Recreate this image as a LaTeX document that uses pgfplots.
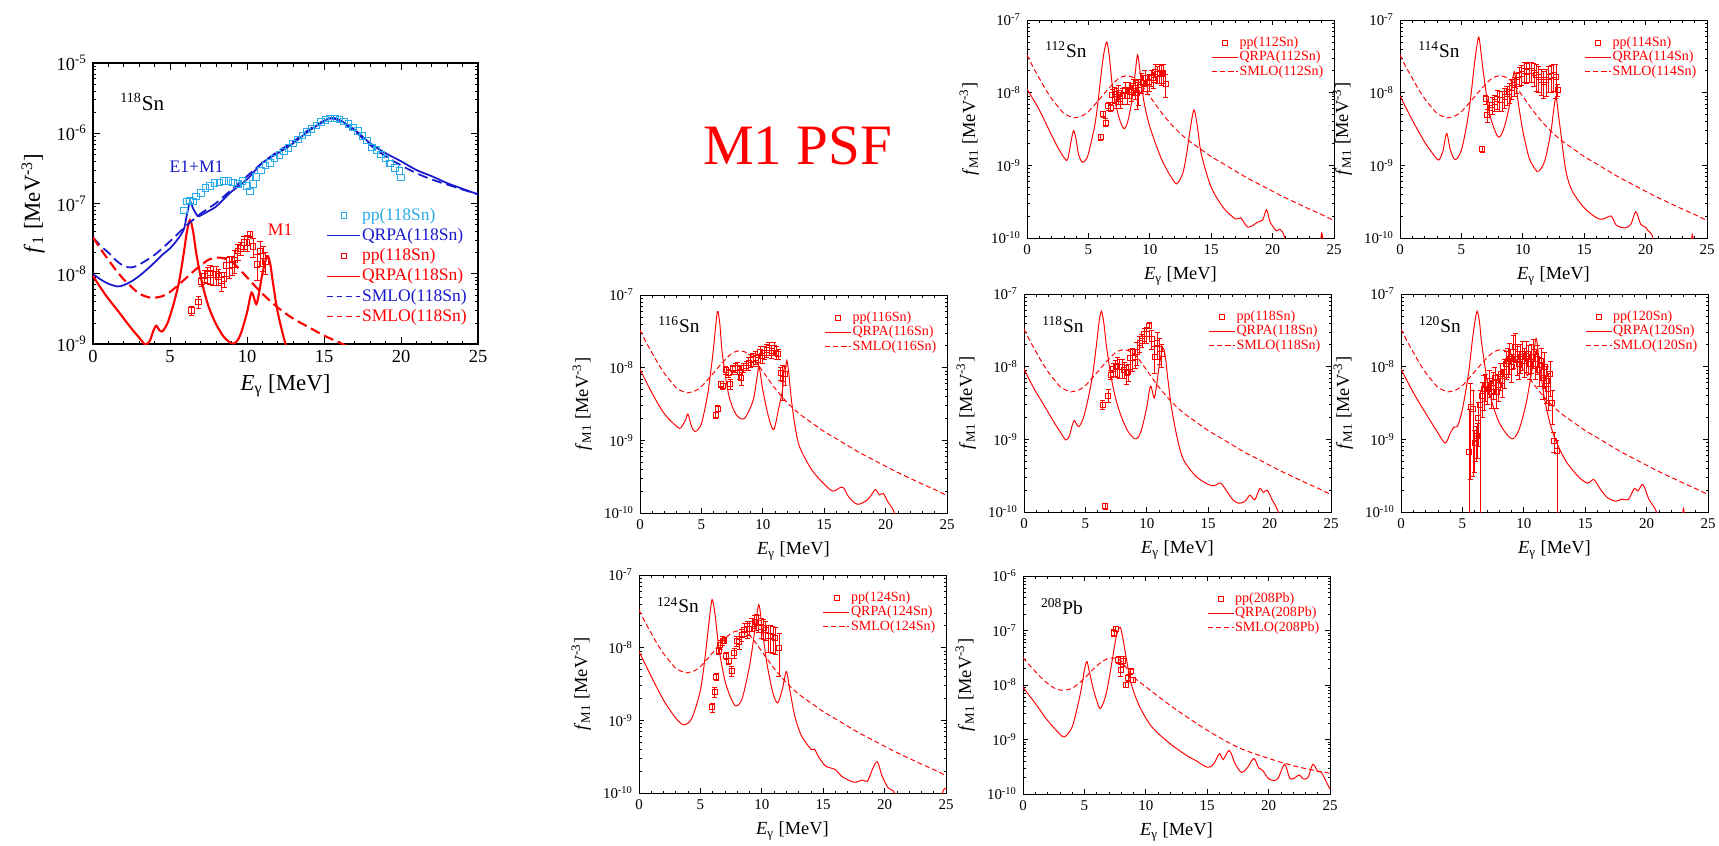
\documentclass[border=0pt]{standalone}
\usepackage{fontspec}
\setmainfont{Liberation Serif}
\usepackage{pgfplots}
\usepackage{pgfplotstable}
\pgfplotsset{compat=1.18}

\definecolor{ppcyan}{RGB}{40,170,235}
\definecolor{qblue}{RGB}{25,25,205}

% ---------------- E1+M1, 118Sn ----------------
\pgfplotstableread{
x y
5.9 7.9e-8
6.1 1.07e-7
6.3 1.10e-7
6.5 1.07e-7
6.7 1.26e-7
7.0 1.41e-7
7.3 1.66e-7
7.6 1.78e-7
7.9 1.95e-7
8.2 2.0e-7
8.5 2.1e-7
8.8 2.1e-7
9.1 2.0e-7
9.4 1.9e-7
9.7 2.1e-7
10.0 1.78e-7
10.2 1.48e-7
10.4 1.9e-7
10.6 2.4e-7
10.9 2.95e-7
11.2 3.5e-7
11.5 3.8e-7
11.8 4.4e-7
12.1 4.9e-7
12.4 5.5e-7
12.7 6.2e-7
13.0 7.1e-7
13.3 8.1e-7
13.6 9.3e-7
13.9 1.05e-6
14.2 1.15e-6
14.5 1.29e-6
14.8 1.45e-6
15.1 1.55e-6
15.4 1.62e-6
15.7 1.62e-6
16.0 1.58e-6
16.3 1.48e-6
16.6 1.35e-6
16.9 1.20e-6
17.2 1.07e-6
17.5 9.1e-7
17.8 7.9e-7
18.1 6.3e-7
18.4 5.8e-7
18.7 5.0e-7
19.0 4.4e-7
19.3 3.7e-7
19.6 3.2e-7
19.9 2.9e-7
20.0 2.35e-7
}\ppEM

\pgfplotstableread{
x y
0 9.9e-9
0.5 8.3e-9
1.0 7.2e-9
1.6 6.6e-9
2.0 6.9e-9
2.5 7.8e-9
3.0 9.3e-9
3.5 1.15e-8
4.0 1.45e-8
4.5 1.86e-8
5.0 2.3e-8
5.5 3.1e-8
5.9 4.3e-8
6.1 7.0e-8
6.3 1.05e-7
6.5 8.5e-8
6.8 6.6e-8
7.0 6.8e-8
7.5 7.8e-8
8 9.1e-8
9 1.48e-7
10 2.2e-7
11 3.8e-7
12 5.2e-7
13 7.2e-7
14 1.07e-6
15 1.48e-6
15.5 1.66e-6
16 1.55e-6
17 1.12e-6
18 7.2e-7
19 5.2e-7
20 4.0e-7
21 3.0e-7
22 2.45e-7
23 1.95e-7
24 1.62e-7
25 1.35e-7
}\qrpaEM

\pgfplotstableread{
x y
0 3.3e-8
0.5 2.5e-8
1 2.0e-8
1.5 1.55e-8
2 1.29e-8
2.5 1.23e-8
3 1.35e-8
4 1.86e-8
5 2.9e-8
6 4.7e-8
7 7.2e-8
8 1.02e-7
9 1.58e-7
10 2.45e-7
11 3.8e-7
12 5.5e-7
13 7.6e-7
14 1.12e-6
15 1.51e-6
15.5 1.62e-6
16 1.51e-6
17 1.07e-6
18 6.8e-7
19 4.7e-7
20 3.5e-7
21 2.7e-7
22 2.2e-7
23 1.86e-7
24 1.58e-7
25 1.35e-7
}\smloEM

% ---------------- SMLO M1 for Sn ----------------
\pgfplotstableread{
x y
0 3.3e-8
0.5 2.24e-8
1 1.58e-8
1.5 1.12e-8
2 8.3e-9
2.5 6.5e-9
3 5.2e-9
3.5 4.7e-9
3.8 4.5e-9
4.5 4.8e-9
5 5.5e-9
5.5 6.8e-9
6 8.5e-9
6.5 1.07e-8
7 1.32e-8
7.5 1.58e-8
8 1.70e-8
8.5 1.66e-8
9 1.48e-8
9.5 1.17e-8
10 8.9e-9
11 5.2e-9
12 3.3e-9
13 2.3e-9
14 1.74e-9
15 1.32e-9
16 1.05e-9
17 8.3e-10
18 6.6e-10
19 5.4e-10
20 4.4e-10
21 3.6e-10
22 3.0e-10
23 2.5e-10
24 2.1e-10
25 1.74e-10
}\smloSn

% ---------------- 112Sn ----------------
\pgfplotstableread{
x y
0 1.12e-8
1 5.8e-9
2 2.6e-9
2.5 1.78e-9
3 1.29e-9
3.3 1.2e-9
3.6 2.2e-9
3.8 3.0e-9
4.0 2.24e-9
4.2 1.41e-9
4.5 1.10e-9
4.8 1.2e-9
5.0 1.45e-9
5.5 3.4e-9
5.8 7.9e-9
6.1 2.24e-8
6.3 3.8e-8
6.5 5.0e-8
6.7 3.2e-8
7.0 1.07e-8
7.5 4.5e-9
7.9 3.2e-9
8.2 4.0e-9
8.5 7.1e-9
8.8 1.78e-8
9.0 3.3e-8
9.2 2.0e-8
9.5 7.9e-9
10 3.4e-9
11 1.17e-9
12 5.9e-10
12.3 5.8e-10
12.7 7.9e-10
13.0 1.45e-9
13.3 3.2e-9
13.6 5.8e-9
13.9 3.2e-9
14.2 1.41e-9
15 5.0e-10
16 2.6e-10
17 1.82e-10
17.4 1.9e-10
18 1.41e-10
18.8 1.66e-10
19.2 1.78e-10
19.5 2.45e-10
19.8 1.66e-10
20.3 1.26e-10
20.6 1.32e-10
21.0 1.0e-10
21.5 3.2e-11
23.6 3.2e-11
24.0 1.17e-10
24.4 3.2e-11
25 3.2e-11
}\qrpaA

\pgfplotstableread{
x y e
6.0 2.45e-9 0.1
6.2 5.1e-9 0.1
6.4 3.9e-9 0.12
6.6 6.5e-9 0.12
6.8 6.2e-9 0.12
6.95 9.3e-9 0.2
7.15 9.5e-9 0.25
7.3 8.7e-9 0.3
7.45 9.8e-9 0.3
7.6 8.1e-9 0.25
7.8 9.1e-9 0.25
8.0 1.1e-8 0.25
8.15 9.1e-9 0.25
8.3 1.1e-8 0.25
8.5 1.02e-8 0.25
8.65 1.23e-8 0.25
8.8 1.15e-8 0.3
8.95 9.8e-9 0.4
9.1 1.1e-8 0.4
9.3 1.41e-8 0.3
9.45 1.38e-8 0.25
9.6 1.62e-8 0.25
9.8 1.35e-8 0.3
9.95 1.41e-8 0.25
10.1 1.62e-8 0.25
10.3 1.51e-8 0.25
10.45 1.95e-8 0.25
10.6 1.82e-8 0.25
10.8 1.9e-8 0.3
10.95 1.82e-8 0.3
11.1 1.9e-8 0.3
11.3 1.32e-8 0.35
}\ppA

% ---------------- 114Sn ----------------
\pgfplotstableread{
x y
0 9.1e-9
1 4.2e-9
2 2.1e-9
2.5 1.58e-9
3 1.23e-9
3.2 1.2e-9
3.5 1.58e-9
3.8 2.75e-9
4.1 1.62e-9
4.5 1.2e-9
5.0 1.62e-9
5.5 4.2e-9
5.8 1.0e-8
6.1 2.8e-8
6.4 5.8e-8
6.6 3.5e-8
6.8 1.82e-8
7.3 5.1e-9
8.0 2.45e-9
8.5 3.4e-9
9.0 7.9e-9
9.3 1.95e-8
9.6 7.9e-9
10.0 3.0e-9
10.5 1.29e-9
11.0 8.9e-10
11.3 8.3e-10
11.8 1.17e-9
12.3 3.0e-9
12.5 5.6e-9
12.7 8.7e-9
12.9 5.0e-9
13.1 2.75e-9
13.5 8.5e-10
14 4.5e-10
15 2.6e-10
16 1.9e-10
16.5 1.82e-10
17.2 2.0e-10
17.6 1.51e-10
18.3 1.38e-10
18.8 1.55e-10
19.2 2.3e-10
19.6 1.55e-10
20.0 1.41e-10
20.2 1.26e-10
20.6 1.0e-10
21 3.2e-11
23.4 3.2e-11
23.8 1.12e-10
24.1 3.2e-11
25 3.2e-11
}\qrpaB

\pgfplotstableread{
x y e
6.7 1.66e-9 0.1
7.0 8.1e-9 0.15
7.1 4.9e-9 0.2
7.3 6.2e-9 0.2
7.5 6.8e-9 0.25
7.7 7.4e-9 0.25
7.9 8.3e-9 0.3
8.1 7.9e-9 0.3
8.3 7.9e-9 0.3
8.5 8.7e-9 0.3
8.7 9.5e-9 0.3
8.9 1.02e-8 0.3
9.1 1.17e-8 0.3
9.3 1.26e-8 0.3
9.5 1.41e-8 0.3
9.7 1.74e-8 0.3
9.9 1.82e-8 0.3
10.1 2.0e-8 0.3
10.3 1.95e-8 0.3
10.5 2.0e-8 0.3
10.7 2.0e-8 0.3
10.9 1.86e-8 0.35
11.1 1.74e-8 0.4
11.3 1.66e-8 0.4
11.5 1.51e-8 0.4
11.7 1.41e-8 0.4
11.9 1.48e-8 0.4
12.1 1.66e-8 0.4
12.3 1.70e-8 0.4
12.5 1.74e-8 0.4
12.7 1.66e-8 0.5
12.85 1.1e-8 0.2
}\ppB

% ---------------- 116Sn ----------------
\pgfplotstableread{
x y
0 9.5e-9
1 4.4e-9
2 2.3e-9
3 1.55e-9
3.3 1.48e-9
3.7 1.9e-9
3.9 2.3e-9
4.2 1.55e-9
4.5 1.32e-9
5.0 1.7e-9
5.5 4.2e-9
5.8 1.0e-8
6.0 1.95e-8
6.3 5.9e-8
6.5 4.0e-8
6.7 1.58e-8
7.2 4.4e-9
7.8 2.3e-9
8.5 2.0e-9
9.2 3.5e-9
9.5 6.8e-9
9.7 1.02e-8
10.0 4.9e-9
10.5 2.0e-9
10.9 1.41e-9
11.3 2.8e-9
11.6 4.9e-9
11.75 1.02e-8
11.85 9.8e-9
11.95 1.26e-8
12.1 8.9e-9
12.3 4.0e-9
12.6 1.66e-9
13 8.1e-10
14 3.9e-10
15 2.5e-10
15.7 2.0e-10
16.3 2.24e-10
16.6 2.2e-10
17.0 1.66e-10
17.7 1.32e-10
18.5 1.51e-10
19.0 1.95e-10
19.2 2.1e-10
19.5 1.78e-10
19.8 1.86e-10
20.2 1.41e-10
20.7 1.0e-10
21 4e-11
25 4e-11
}\qrpaC

\pgfplotstableread{
x y e
6.15 2.24e-9 0.1
6.35 2.75e-9 0.1
6.55 5.9e-9 0.1
6.75 5.6e-9 0.1
7.0 9.3e-9 0.12
7.2 8.5e-9 0.12
7.35 6.0e-9 0.15
7.55 9.5e-9 0.15
7.75 1.0e-8 0.15
7.95 1.0e-8 0.2
8.1 8.7e-9 0.2
8.25 7.2e-9 0.2
8.45 1.0e-8 0.15
8.65 1.07e-8 0.15
8.85 1.15e-8 0.2
9.0 1.26e-8 0.2
9.2 1.32e-8 0.2
9.4 1.38e-8 0.2
9.6 1.29e-8 0.2
9.8 1.66e-8 0.2
9.95 1.45e-8 0.2
10.1 1.62e-8 0.2
10.3 1.74e-8 0.2
10.5 1.86e-8 0.2
10.7 1.7e-8 0.2
10.9 1.86e-8 0.2
11.1 1.62e-8 0.2
11.25 1.55e-8 0.15
11.45 8.5e-9 0.2
11.6 7.1e-9 0.5
11.8 8.1e-9 0.3
}\ppC

% ---------------- 118Sn (M1) ----------------
\pgfplotstableread{
x y
0 9.3e-9
0.5 6.3e-9
1 4.4e-9
1.5 3.2e-9
2 2.3e-9
2.5 1.66e-9
3 1.23e-9
3.4 9.8e-10
3.7 1.12e-9
3.9 1.51e-9
4.1 1.82e-9
4.3 1.58e-9
4.5 1.51e-9
4.8 1.9e-9
5.0 2.5e-9
5.3 4.2e-9
5.6 7.9e-9
5.9 2.0e-8
6.1 4.0e-8
6.3 5.8e-8
6.5 4.0e-8
6.7 2.0e-8
7.0 8.9e-9
7.3 4.8e-9
7.6 3.0e-9
8.0 1.9e-9
8.5 1.26e-9
9.0 1.02e-9
9.3 1.07e-9
9.6 1.41e-9
10.0 2.8e-9
10.3 5.4e-9
10.6 3.7e-9
10.8 5.6e-9
11.0 1.0e-8
11.3 1.78e-8
11.5 1.41e-8
11.7 7.1e-9
12.0 2.8e-9
12.5 1.0e-9
13.0 5.2e-10
14.0 3.1e-10
15.0 2.4e-10
15.5 2.3e-10
16.0 2.5e-10
16.5 1.95e-10
17.0 1.48e-10
17.5 1.32e-10
18.0 1.41e-10
18.4 1.7e-10
18.8 1.48e-10
19.2 2.1e-10
19.5 1.86e-10
19.8 2.0e-10
20.2 1.48e-10
20.7 1.0e-10
21.0 5e-11
25 5e-11
}\qrpaD

\pgfplotstableread{
x y e
6.4 3.0e-9 0.15
6.6 1.2e-10 0.1
6.85 4.0e-9 0.2
7.05 7.8e-9 0.15
7.25 9.3e-9 0.2
7.45 9.8e-9 0.25
7.6 1.02e-8 0.3
7.8 9.8e-9 0.3
8.0 9.8e-9 0.3
8.15 9.1e-9 0.25
8.35 8.1e-9 0.3
8.5 8.5e-9 0.25
8.65 1.32e-8 0.3
8.85 1.32e-8 0.35
9.05 1.35e-8 0.3
9.2 1.58e-8 0.35
9.4 2.1e-8 0.25
9.6 2.3e-8 0.2
9.8 2.8e-8 0.2
10.0 2.8e-8 0.25
10.2 3.7e-8 0.1
10.4 2.45e-8 0.3
10.65 1.35e-8 0.4
10.85 2.1e-8 0.4
11.05 1.78e-8 0.4
11.2 1.5e-8 0.35
}\ppD

% ---------------- 120Sn ----------------
\pgfplotstableread{
x y
0 9.3e-9
1 4.4e-9
2 2.3e-9
3 1.23e-9
3.6 8.9e-10
4.0 1.2e-9
4.3 1.48e-9
4.6 1.51e-9
5.0 2.6e-9
5.5 8.1e-9
5.8 2.24e-8
6.0 4.0e-8
6.2 5.8e-8
6.4 4.0e-8
6.6 1.9e-8
7.2 4.4e-9
8.0 1.7e-9
9.0 1.02e-9
9.6 1.35e-9
10.2 3.2e-9
10.7 1.0e-8
11.0 2.45e-8
11.3 1.0e-8
11.7 3.5e-9
12.2 1.51e-9
12.8 8.1e-10
13.5 4.8e-10
14.5 3.0e-10
15.2 2.5e-10
15.7 2.8e-10
16.2 2.1e-10
16.8 1.58e-10
17.5 1.41e-10
18.0 1.51e-10
18.5 1.48e-10
19.0 2.1e-10
19.3 1.95e-10
19.7 2.4e-10
20.2 1.48e-10
20.8 1.0e-10
21.2 4e-11
22.7 4e-11
23.0 1.12e-10
23.3 4e-11
25 4e-11
}\qrpaE

\pgfplotstableread{
x y ep em
5.54 6.8e-10 2.8 0.999
5.68 2.8e-9 1.1 0.9
5.85 2.6e-9 0.8 0.88
6.0 8.9e-10 0.5 0.6
6.1 1.0e-9 0.5 0.5
6.2 1.1e-9 0.5 0.5
6.3 2.0e-9 0.6 0.6
6.45 3.0e-9 0.6 0.999
6.6 4.0e-9 0.5 0.5
6.75 5.0e-9 0.5 0.5
6.9 5.6e-9 0.4 0.4
7.05 5.0e-9 0.4 0.4
7.2 6.3e-9 0.4 0.4
7.35 4.5e-9 0.4 0.4
7.5 6.0e-9 0.4 0.4
7.65 7.1e-9 0.4 0.4
7.8 4.5e-9 0.5 0.4
7.95 5.6e-9 0.4 0.4
8.1 7.9e-9 0.4 0.4
8.25 6.3e-9 0.4 0.4
8.4 8.5e-9 0.5 0.4
8.55 1.1e-8 0.5 0.4
8.7 1.2e-8 0.5 0.4
8.85 1.3e-8 0.6 0.4
9.0 1.0e-8 0.5 0.4
9.15 1.6e-8 0.7 0.4
9.3 1.9e-8 0.5 0.4
9.45 1.26e-8 0.5 0.4
9.6 1.1e-8 0.5 0.4
9.75 1.35e-8 0.5 0.4
9.9 1.5e-8 0.5 0.4
10.05 1.2e-8 0.5 0.4
10.2 1.4e-8 0.6 0.4
10.35 1.3e-8 0.5 0.4
10.5 1.1e-8 0.5 0.4
10.65 1.35e-8 0.5 0.4
10.8 1.6e-8 0.5 0.4
10.95 1.1e-8 0.5 0.4
11.1 1.3e-8 0.5 0.4
11.25 9.0e-9 0.5 0.4
11.4 1.2e-8 0.5 0.4
11.55 7.1e-9 0.6 0.5
11.7 1.0e-8 0.6 0.5
11.85 6.3e-9 0.6 0.5
12.0 5.0e-9 0.6 0.5
12.15 7.9e-9 0.5 0.5
12.3 3.2e-9 0.5 0.5
12.45 9.5e-10 0.3 0.3
12.7 7.0e-10 0.4 0.999
}\ppE

% ---------------- 124Sn ----------------
\pgfplotstableread{
x y
0 8.9e-9
1 4.0e-9
2 1.9e-9
3 1.07e-9
3.66 8.7e-10
4.3 1.07e-9
5.0 2.6e-9
5.4 7.9e-9
5.7 2.24e-8
5.9 4.2e-8
6.0 4.5e-8
6.2 2.8e-8
6.5 1.0e-8
7.0 3.5e-9
7.5 2.0e-9
7.9 1.58e-9
8.4 2.0e-9
9.0 5.6e-9
9.4 1.58e-8
9.75 3.9e-8
10.0 2.0e-8
10.4 6.3e-9
10.9 2.4e-9
11.3 1.74e-9
11.7 2.8e-9
12.0 4.7e-9
12.3 2.5e-9
12.7 1.12e-9
13.2 6.3e-10
14.0 4.0e-10
14.3 4.0e-10
14.6 3.2e-10
15.2 2.35e-10
16.0 2.1e-10
16.5 1.7e-10
17.5 1.41e-10
18.2 1.51e-10
18.6 1.45e-10
19.0 2.1e-10
19.4 2.7e-10
19.8 1.7e-10
20.3 1.17e-10
20.8 1.0e-10
21.2 4e-11
24.3 4e-11
24.7 1.0e-10
25 1.17e-10
}\qrpaF

\pgfplotstableread{
x y e
5.96 1.51e-9 0.15
6.15 2.45e-9 0.15
6.3 4.0e-9 0.1
6.5 9.1e-9 0.12
6.6 1.1e-8 0.15
6.8 1.26e-8 0.15
6.95 1.26e-8 0.1
7.1 7.8e-9 0.1
7.3 6.5e-9 0.1
7.55 4.8e-9 0.15
7.75 8.5e-9 0.15
7.95 1.23e-8 0.15
8.15 1.2e-8 0.2
8.35 1.51e-8 0.2
8.55 1.78e-8 0.2
8.8 1.82e-8 0.25
8.95 1.82e-8 0.2
9.2 2.1e-8 0.2
9.4 2.3e-8 0.2
9.55 2.3e-8 0.25
9.75 2.2e-8 0.25
9.95 1.95e-8 0.3
10.15 1.86e-8 0.3
10.3 1.78e-8 0.3
10.5 1.45e-8 0.4
10.7 1.45e-8 0.4
10.9 1.41e-8 0.4
11.1 1.35e-8 0.4
11.4 1.0e-8 0.6
}\ppF

% ---------------- 208Pb ----------------
\pgfplotstableread{
x y
0 9.1e-9
1 4.6e-9
2 2.24e-9
3 1.26e-9
3.4 1.12e-9
4.0 1.7e-9
4.5 4.6e-9
4.8 1.0e-8
5.0 1.9e-8
5.2 2.7e-8
5.4 1.78e-8
5.7 8.9e-9
6.0 5.2e-9
6.3 3.7e-9
6.7 6.0e-9
7.0 1.26e-8
7.3 3.2e-8
7.6 7.8e-8
7.9 1.15e-7
8.1 7.9e-8
8.4 3.2e-8
8.8 1.07e-8
9.5 4.0e-9
10.5 1.7e-9
12.0 8.3e-10
13.5 4.8e-10
14.0 4.2e-10
15.0 3.1e-10
15.5 3.5e-10
16.0 5.5e-10
16.3 4.3e-10
16.8 6.3e-10
17.3 3.5e-10
17.8 2.5e-10
18.3 3.1e-10
18.8 4.5e-10
19.2 3.0e-10
19.5 2.75e-10
20.0 1.9e-10
20.5 1.78e-10
20.8 2.0e-10
21.3 3.5e-10
21.7 2.0e-10
22.0 1.9e-10
22.5 2.24e-10
22.8 1.9e-10
23.2 2.0e-10
23.6 3.5e-10
24.0 2.6e-10
24.3 2.5e-10
24.7 1.66e-10
25 1.23e-10
}\qrpaG

\pgfplotstableread{
x y
0 3.2e-8
0.5 2.35e-8
1 1.78e-8
1.5 1.35e-8
2 1.07e-8
2.5 8.9e-9
3 8.1e-9
3.5 8.1e-9
4 8.7e-9
4.5 1.05e-8
5 1.32e-8
5.5 1.74e-8
6 2.24e-8
6.5 2.75e-8
7 3.1e-8
7.5 3.1e-8
8 2.75e-8
9 1.41e-8
10 9.3e-9
11 6.2e-9
12.5 3.5e-9
15 1.48e-9
17.5 7.2e-10
20 4.5e-10
22.5 3.1e-10
25 2.4e-10
}\smloG

\pgfplotstableread{
x y e
7.4 9.1e-8 0.15
7.56 1.07e-7 0.1
7.75 2.95e-8 0.15
7.94 1.9e-8 0.25
8.15 2.75e-8 0.2
8.37 1.02e-8 0.1
8.56 1.35e-8 0.15
8.75 1.78e-8 0.1
8.97 1.26e-8 0.1
}\ppG

\tikzset{
  qrpa/.style={red, line width=0.55pt},
  smlo/.style={red, line width=0.55pt, dash pattern=on 1mm off 0.6mm},
  ppmark/.style={red, mark=square, mark size=0.5mm, line width=0.45pt},
}
% common settings: the small M1 panels; the big panel overrides what differs
\pgfplotsset{
  legend image code/.code={\draw[mark repeat=2,mark phase=2,#1]
    plot coordinates {(0mm,0mm) (2.6mm,0mm) (5.2mm,0mm)};},
  every axis/.append style={
    scale only axis,
    width=61.4mm, height=43.6mm,
    xmin=0, xmax=25, xtick={0,5,10,15,20,25},
    xticklabels={0,5,10,15,20,25},
    minor x tick num=4, tick align=inside,
    tick style={black, line width=0.4pt},
    major tick length=1mm, minor tick length=0.5mm,
    axis line style={line width=0.5pt},
    tick label style={font=\fontsize{8.5}{10}\selectfont},
    label style={font=\fontsize{10.5}{12}\selectfont},
    xlabel={\textit{E}\textsubscript{γ} [MeV]},
    ylabel={\textit{f}\textsubscript{M1} [MeV\textsuperscript{-3}]},
    legend cell align=left,
    legend style={at={(0.97,0.93)}, anchor=north east, draw=none, fill=none,
      text=red, font=\fontsize{8}{9}\selectfont, inner sep=0pt,
      nodes={inner sep=0.6pt}},
  },
}

\begin{document}
\begin{tikzpicture}
\path[use as bounding box] (0mm,0mm) rectangle (343.8mm,-169mm);

\node[text=red, font=\fontsize{32.5}{38}\selectfont] at (159.5mm,-29.2mm) {M1 PSF};

% ---------- big panel: 118Sn, E1+M1 and M1 ----------
\begin{axis}[at={(18.6mm,-12.6mm)}, anchor=north west,
  width=77mm, height=56.2mm, ymode=log,
  ymin=1e-9, ymax=1e-5,
  ytick={1e-9,1e-8,1e-7,1e-6,1e-5},
  yticklabels={10\textsuperscript{-9},10\textsuperscript{-8},10\textsuperscript{-7},10\textsuperscript{-6},10\textsuperscript{-5}},
  minor ytick={2e-9,3e-9,4e-9,5e-9,6e-9,7e-9,8e-9,9e-9,
               2e-8,3e-8,4e-8,5e-8,6e-8,7e-8,8e-8,9e-8,
               2e-7,3e-7,4e-7,5e-7,6e-7,7e-7,8e-7,9e-7,
               2e-6,3e-6,4e-6,5e-6,6e-6,7e-6,8e-6,9e-6},
  tick label style={font=\fontsize{10.5}{12}\selectfont},
  label style={font=\fontsize{13}{15}\selectfont},
  ylabel={\textit{f}\textsubscript{1} [MeV\textsuperscript{-3}]},
  major tick length=1.4mm, minor tick length=0.7mm,
  axis line style={line width=0.7pt},
  legend style={at={(0.975,0.49)}, anchor=north east, row sep=1.7pt,
    font=\fontsize{10}{12}\selectfont, nodes={inner sep=0.7pt}},
  legend image code/.code={\draw[mark repeat=2,mark phase=2,#1]
    plot coordinates {(0mm,0mm) (3.3mm,0mm) (6.6mm,0mm)};},
]
% legend samples are drawn thin, as in the original figure
\addlegendimage{ppcyan, only marks, mark=square, mark size=0.55mm, line width=0.5pt}
\addlegendentry{\textcolor{ppcyan}{pp(118Sn)}}
\addlegendimage{qblue, line width=0.6pt}
\addlegendentry{\textcolor{qblue}{QRPA(118Sn)}}
\addlegendimage{red, only marks, mark=square, mark size=0.55mm, line width=0.5pt}
\addlegendentry{\textcolor{red}{pp(118Sn)}}
\addlegendimage{red, line width=0.6pt}
\addlegendentry{\textcolor{red}{QRPA(118Sn)}}
\addlegendimage{qblue, line width=0.6pt, dash pattern=on 1.1mm off 0.8mm}
\addlegendentry{\textcolor{qblue}{SMLO(118Sn)}}
\addlegendimage{red, line width=0.6pt, dash pattern=on 1.1mm off 0.8mm}
\addlegendentry{\textcolor{red}{SMLO(118Sn)}}

\addplot[forget plot, ppcyan, only marks, mark=square, mark size=0.65mm, line width=0.6pt] table {\ppEM};
\addplot[forget plot, qblue, line width=1pt, smooth] table {\qrpaEM};
\addplot[forget plot, ppmark, mark size=0.55mm, line width=0.5pt, only marks,
  error bars/.cd, y dir=both, y explicit relative] table[x=x, y=y, y error=e] {\ppD};
\addplot[forget plot, red, line width=1.2pt, smooth] table {\qrpaD};
\addplot[forget plot, qblue, line width=1pt, dash pattern=on 2mm off 1mm, smooth] table {\smloEM};
\addplot[forget plot, red, line width=1.2pt, dash pattern=on 2mm off 1mm, smooth] table {\smloSn};
\node[font=\fontsize{12}{14}\selectfont] at (rel axis cs:0.128,0.861) {\textsuperscript{118}Sn};
\node[text=qblue, font=\fontsize{10}{12}\selectfont] at (rel axis cs:0.269,0.63) {E1+M1};
\node[text=red, font=\fontsize{10}{12}\selectfont] at (rel axis cs:0.486,0.406) {M1};
\end{axis}

% ---------- 112Sn ----------
\begin{axis}[at={(205.4mm,-4mm)}, anchor=north west, ymode=log,
  ymin=1e-10, ymax=1e-7, ytick={1e-10,1e-9,1e-8,1e-7},
  yticklabels={10\textsuperscript{-10},10\textsuperscript{-9},10\textsuperscript{-8},10\textsuperscript{-7}},
  minor ytick={2e-10,3e-10,4e-10,5e-10,6e-10,7e-10,8e-10,9e-10,2e-9,3e-9,4e-9,5e-9,6e-9,7e-9,8e-9,9e-9,2e-8,3e-8,4e-8,5e-8,6e-8,7e-8,8e-8,9e-8}]
\addplot[ppmark, only marks, error bars/.cd, y dir=both, y explicit relative] table[x=x, y=y, y error=e] {\ppA};
\addlegendentry{pp(112Sn)}
\addplot[qrpa, smooth] table {\qrpaA};
\addlegendentry{QRPA(112Sn)}
\addplot[smlo, smooth] table {\smloSn};
\addlegendentry{SMLO(112Sn)}
\node[font=\fontsize{11}{13}\selectfont] at (rel axis cs:0.127,0.862) {\textsuperscript{112}Sn};
\end{axis}

% ---------- 114Sn ----------
\begin{axis}[at={(280mm,-4mm)}, anchor=north west, ymode=log,
  ymin=1e-10, ymax=1e-7, ytick={1e-10,1e-9,1e-8,1e-7},
  yticklabels={10\textsuperscript{-10},10\textsuperscript{-9},10\textsuperscript{-8},10\textsuperscript{-7}},
  minor ytick={2e-10,3e-10,4e-10,5e-10,6e-10,7e-10,8e-10,9e-10,2e-9,3e-9,4e-9,5e-9,6e-9,7e-9,8e-9,9e-9,2e-8,3e-8,4e-8,5e-8,6e-8,7e-8,8e-8,9e-8}]
\addplot[ppmark, only marks, error bars/.cd, y dir=both, y explicit relative] table[x=x, y=y, y error=e] {\ppB};
\addlegendentry{pp(114Sn)}
\addplot[qrpa, smooth] table {\qrpaB};
\addlegendentry{QRPA(114Sn)}
\addplot[smlo, smooth] table {\smloSn};
\addlegendentry{SMLO(114Sn)}
\node[font=\fontsize{11}{13}\selectfont] at (rel axis cs:0.127,0.862) {\textsuperscript{114}Sn};
\end{axis}

% ---------- 116Sn ----------
\begin{axis}[at={(128mm,-59mm)}, anchor=north west, ymode=log,
  ymin=1e-10, ymax=1e-7, ytick={1e-10,1e-9,1e-8,1e-7},
  yticklabels={10\textsuperscript{-10},10\textsuperscript{-9},10\textsuperscript{-8},10\textsuperscript{-7}},
  minor ytick={2e-10,3e-10,4e-10,5e-10,6e-10,7e-10,8e-10,9e-10,2e-9,3e-9,4e-9,5e-9,6e-9,7e-9,8e-9,9e-9,2e-8,3e-8,4e-8,5e-8,6e-8,7e-8,8e-8,9e-8}]
\addplot[ppmark, only marks, error bars/.cd, y dir=both, y explicit relative] table[x=x, y=y, y error=e] {\ppC};
\addlegendentry{pp(116Sn)}
\addplot[qrpa, smooth] table {\qrpaC};
\addlegendentry{QRPA(116Sn)}
\addplot[smlo, smooth] table {\smloSn};
\addlegendentry{SMLO(116Sn)}
\node[font=\fontsize{11}{13}\selectfont] at (rel axis cs:0.127,0.862) {\textsuperscript{116}Sn};
\end{axis}

% ---------- 118Sn ----------
\begin{axis}[at={(204.8mm,-58.8mm)}, anchor=north west, ymode=log,
  ymin=1e-10, ymax=1e-7, ytick={1e-10,1e-9,1e-8,1e-7},
  yticklabels={10\textsuperscript{-10},10\textsuperscript{-9},10\textsuperscript{-8},10\textsuperscript{-7}},
  minor ytick={2e-10,3e-10,4e-10,5e-10,6e-10,7e-10,8e-10,9e-10,2e-9,3e-9,4e-9,5e-9,6e-9,7e-9,8e-9,9e-9,2e-8,3e-8,4e-8,5e-8,6e-8,7e-8,8e-8,9e-8}]
\addplot[ppmark, only marks, error bars/.cd, y dir=both, y explicit relative] table[x=x, y=y, y error=e] {\ppD};
\addlegendentry{pp(118Sn)}
\addplot[qrpa, smooth] table {\qrpaD};
\addlegendentry{QRPA(118Sn)}
\addplot[smlo, smooth] table {\smloSn};
\addlegendentry{SMLO(118Sn)}
\node[font=\fontsize{11}{13}\selectfont] at (rel axis cs:0.127,0.862) {\textsuperscript{118}Sn};
\end{axis}

% ---------- 120Sn ----------
\begin{axis}[at={(280.2mm,-58.8mm)}, anchor=north west, ymode=log,
  ymin=1e-10, ymax=1e-7, ytick={1e-10,1e-9,1e-8,1e-7},
  yticklabels={10\textsuperscript{-10},10\textsuperscript{-9},10\textsuperscript{-8},10\textsuperscript{-7}},
  minor ytick={2e-10,3e-10,4e-10,5e-10,6e-10,7e-10,8e-10,9e-10,2e-9,3e-9,4e-9,5e-9,6e-9,7e-9,8e-9,9e-9,2e-8,3e-8,4e-8,5e-8,6e-8,7e-8,8e-8,9e-8}]
\addplot[ppmark, only marks, error bars/.cd, y dir=both, y explicit relative] table[x=x, y=y, y error plus=ep, y error minus=em] {\ppE};
\addlegendentry{pp(120Sn)}
\addplot[qrpa, smooth] table {\qrpaE};
\addlegendentry{QRPA(120Sn)}
\addplot[smlo, smooth] table {\smloSn};
\addlegendentry{SMLO(120Sn)}
\node[font=\fontsize{11}{13}\selectfont] at (rel axis cs:0.127,0.862) {\textsuperscript{120}Sn};
\end{axis}

% ---------- 124Sn ----------
\begin{axis}[at={(127.8mm,-115mm)}, anchor=north west, ymode=log,
  ymin=1e-10, ymax=1e-7, ytick={1e-10,1e-9,1e-8,1e-7},
  yticklabels={10\textsuperscript{-10},10\textsuperscript{-9},10\textsuperscript{-8},10\textsuperscript{-7}},
  minor ytick={2e-10,3e-10,4e-10,5e-10,6e-10,7e-10,8e-10,9e-10,2e-9,3e-9,4e-9,5e-9,6e-9,7e-9,8e-9,9e-9,2e-8,3e-8,4e-8,5e-8,6e-8,7e-8,8e-8,9e-8}]
\addplot[ppmark, only marks, error bars/.cd, y dir=both, y explicit relative] table[x=x, y=y, y error=e] {\ppF};
\addlegendentry{pp(124Sn)}
\addplot[qrpa, smooth] table {\qrpaF};
\addlegendentry{QRPA(124Sn)}
\addplot[smlo, smooth] table {\smloSn};
\addlegendentry{SMLO(124Sn)}
\node[font=\fontsize{11}{13}\selectfont] at (rel axis cs:0.127,0.862) {\textsuperscript{124}Sn};
\end{axis}

% ---------- 208Pb ----------
\begin{axis}[at={(204.6mm,-115.2mm)}, anchor=north west, ymode=log,
  ymin=1e-10, ymax=1e-6, ytick={1e-10,1e-9,1e-8,1e-7,1e-6},
  yticklabels={10\textsuperscript{-10},10\textsuperscript{-9},10\textsuperscript{-8},10\textsuperscript{-7},10\textsuperscript{-6}},
  minor ytick={2e-10,3e-10,4e-10,5e-10,6e-10,7e-10,8e-10,9e-10,2e-9,3e-9,4e-9,5e-9,6e-9,7e-9,8e-9,9e-9,2e-8,3e-8,4e-8,5e-8,6e-8,7e-8,8e-8,9e-8,2e-7,3e-7,4e-7,5e-7,6e-7,7e-7,8e-7,9e-7}]
\addplot[ppmark, only marks, error bars/.cd, y dir=both, y explicit relative] table[x=x, y=y, y error=e] {\ppG};
\addlegendentry{pp(208Pb)}
\addplot[qrpa, smooth] table {\qrpaG};
\addlegendentry{QRPA(208Pb)}
\addplot[smlo, smooth] table {\smloG};
\addlegendentry{SMLO(208Pb)}
\node[font=\fontsize{11}{13}\selectfont] at (rel axis cs:0.127,0.862) {\textsuperscript{208}Pb};
\end{axis}
\end{tikzpicture}
\end{document}
